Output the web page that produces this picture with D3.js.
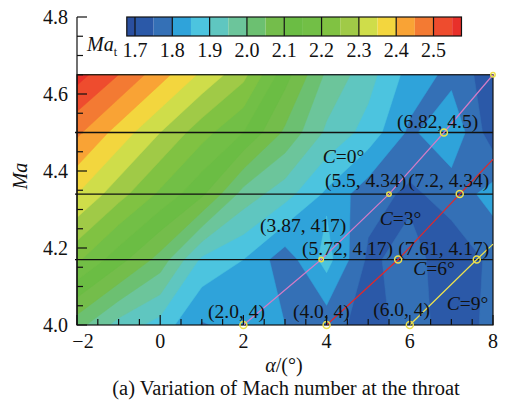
<!DOCTYPE html>
<html>
<head>
<meta charset="utf-8">
<script src="https://cdn.jsdelivr.net/npm/d3@7"></script>
<style>
  body { margin:0; background:#fff; }
  svg text { font-family:"Liberation Serif","Times New Roman","DejaVu Serif",serif; fill:#111; }
</style>
</head>
<body>
<div id="chart"></div>
<script>
// grid of throat Mach number
var alphaGrid = [-2, -1, 0, 1, 2, 3, 4, 5, 6, 7, 8];
var maGrid = [4.0, 4.17, 4.34, 4.5, 4.65];
var matRow400 = [2.02, 1.93, 1.88, 1.795, 1.82, 1.80, 1.77, 1.73, 1.77, 1.73, 1.76];
var matRow417 = [2.21, 2.12, 2.03, 1.89, 1.85, 1.77, 1.87, 1.74, 1.77, 1.72, 1.76];
var matRow434 = [2.35, 2.27, 2.19, 2.11, 1.98, 1.92, 1.84, 1.77, 1.74, 1.77, 1.82];
var matRow450 = [2.46, 2.38, 2.30, 2.22, 2.15, 2.04, 1.94, 1.88, 1.79, 1.84, 1.72];
var matRow465 = [2.57, 2.50, 2.42, 2.34, 2.265, 2.12, 1.99, 1.92, 1.83, 1.785, 1.72];

var levels = [1.65, 1.70, 1.75, 1.80, 1.85, 1.90, 1.95, 2.00, 2.05, 2.10, 2.15, 2.20, 2.25, 2.30, 2.35, 2.40, 2.45, 2.50, 2.55];
var levelColors = ["#2a4f9f", "#2b59a8", "#3470b6", "#2fa3da", "#4cc4df", "#5fc6c0", "#6cc59b", "#6cc071", "#74bd4b",
                   "#6bbd44", "#72bf46", "#80c242", "#a0ca47", "#cfdd4a", "#f3d63e", "#f9a335", "#f37a33", "#ee4c2e", "#e8302a"];
var cbTicks = [1.7, 1.8, 1.9, 2.0, 2.1, 2.2, 2.3, 2.4, 2.5];
var cbRange = [1.678, 2.575];

var xTicks = [-2, 0, 2, 4, 6, 8];
var yTicks = [4.0, 4.2, 4.4, 4.6, 4.8];
var hLines = [4.17, 4.34, 4.5];

// operating lines C = const
var c0Alpha = [2.0, 3.87, 5.5, 6.82, 8.0],  c0Ma = [4.0, 4.17, 4.34, 4.5, 4.65];
var c3Alpha = [4.0, 5.72, 7.2, 8.0],        c3Ma = [4.0, 4.17, 4.34, 4.43];
var c6Alpha = [6.0, 7.61, 8.0],             c6Ma = [4.0, 4.17, 4.21];

// labels: text, alpha, Ma of text start
var notes = [
  ["(6.82, 4.5)", 5.69, 4.512], ["(5.5, 4.34)", 3.96, 4.358], ["(7.2, 4.34)", 5.96, 4.358],
  ["(3.87, 417)", 2.40, 4.242], ["(5.72, 4.17)", 3.41, 4.182], ["(7.61, 4.17)", 5.72, 4.182],
  ["(2.0, 4)", 1.15, 4.018], ["(4.0, 4)", 3.19, 4.018], ["(6.0, 4)", 5.12, 4.023]
];
var cNotes = [["0", 3.91, 4.421], ["3", 5.28, 4.260], ["6", 6.08, 4.130], ["9", 6.89, 4.039]];

var W = 508, H = 400;
var svg = d3.select("#chart").append("svg").attr("width", W).attr("height", H);

var x = d3.scaleLinear().domain([-2, 8]).range([77, 493]);
var y = d3.scaleLinear().domain([4.0, 4.8]).range([325, 17]);
var maTop = 4.65;

// contour field
var nx = alphaGrid.length, ny = maGrid.length;
var rows = [matRow400, matRow417, matRow434, matRow450, matRow465];
var values = [];
rows.forEach(function(r){ r.forEach(function(v){ values.push(v); }); });

var gxToAlpha = d3.scaleLinear().domain([0.5, nx - 0.5]).range([alphaGrid[0], alphaGrid[nx-1]]);
var gyToMa = d3.scaleLinear().domain(maGrid.map(function(d,i){ return i + 0.5; })).range(maGrid);

var proj = d3.geoTransform({
  point: function(px, py) { this.stream.point(x(gxToAlpha(px)), y(gyToMa(py))); }
});
var path = d3.geoPath(proj);

var px0 = x(-2), py0 = y(maTop), pw = x(8) - x(-2), ph = y(4.0) - y(maTop);

svg.append("clipPath").attr("id", "clip")
  .append("rect").attr("x", px0).attr("y", py0).attr("width", pw).attr("height", ph);

var field = svg.append("g").attr("clip-path", "url(#clip)");
field.append("rect").attr("x", px0).attr("y", py0).attr("width", pw).attr("height", ph)
  .attr("fill", levelColors[0]);

var contours = d3.contours().size([nx, ny]).thresholds(levels.slice(1))(values);
field.selectAll("path.band").data(contours).enter().append("path")
  .attr("class", "band")
  .attr("d", path)
  .attr("fill", function(d){ return levelColors[levels.indexOf(d.value)]; })
  .attr("stroke", function(d){ return levelColors[levels.indexOf(d.value)]; })
  .attr("stroke-width", 0.5);

// border of contour region
svg.append("rect").attr("x", px0).attr("y", py0).attr("width", pw).attr("height", ph)
  .attr("fill", "none").attr("stroke", "#111").attr("stroke-width", 1.2);

// horizontal Ma lines
svg.selectAll("line.h").data(hLines).enter().append("line")
  .attr("x1", x(-2) - 2).attr("x2", x(8)).attr("y1", function(d){ return y(d); }).attr("y2", function(d){ return y(d); })
  .attr("stroke", "#111").attr("stroke-width", 1.3);

// C lines
var line = d3.line().x(function(d){ return x(d[0]); }).y(function(d){ return y(d[1]); });
var cSets = [
  { a: c0Alpha, m: c0Ma, col: "#d27cc6" },
  { a: c3Alpha, m: c3Ma, col: "#e2282a" },
  { a: c6Alpha, m: c6Ma, col: "#eee24e" }
];
cSets.forEach(function(s){
  var pts = s.a.map(function(a, i){ return [a, s.m[i]]; });
  svg.append("path").attr("d", line(pts)).attr("fill", "none").attr("stroke", s.col).attr("stroke-width", 1.2);
});

// markers
var markers = [];
[[c0Alpha, c0Ma], [c3Alpha, c3Ma], [c6Alpha, c6Ma]].forEach(function(s, k){
  s[0].forEach(function(a, i){
    if (a < 8) markers.push([a, s[1][i], (k == 0 && i > 0 && i < 3) ? 2.2 : 3.5]);
  });
});
markers.push([8, 4.65, 2.2]);
svg.selectAll("circle.mk").data(markers).enter().append("circle")
  .attr("cx", function(d){ return x(d[0]); }).attr("cy", function(d){ return y(d[1]); })
  .attr("r", function(d){ return d[2]; })
  .attr("fill", "none").attr("stroke", "#ece04c").attr("stroke-width", 1.5);

// annotations
svg.selectAll("text.note").data(notes).enter().append("text")
  .attr("x", function(d){ return x(d[1]); }).attr("y", function(d){ return y(d[2]); })
  .attr("font-size", 19.5).text(function(d){ return d[0]; });
var cn = svg.selectAll("text.cn").data(cNotes).enter().append("text")
  .attr("x", function(d){ return x(d[1]); }).attr("y", function(d){ return y(d[2]); })
  .attr("font-size", 19.5);
cn.append("tspan").attr("font-style", "italic").text("C");
cn.append("tspan").text(function(d){ return "=" + d[0] + "°"; });

// axes
svg.append("line").attr("x1", x(-2)).attr("x2", x(-2)).attr("y1", y(4.8)).attr("y2", y(4.0))
  .attr("stroke", "#111").attr("stroke-width", 1.2);

var yMinor = d3.range(4.0, 4.801, 0.05);
svg.selectAll("line.ytick").data(yMinor).enter().append("line")
  .attr("x1", x(-2)).attr("y1", function(d){ return y(d); }).attr("y2", function(d){ return y(d); })
  .attr("x2", function(d){ return x(-2) + (Math.abs(d*5 - Math.round(d*5)) < 1e-6 ? 10 : 6); })
  .attr("stroke", "#111").attr("stroke-width", 1.2);
svg.selectAll("text.ylab").data(yTicks).enter().append("text")
  .attr("x", 68).attr("y", function(d){ return y(d) + 7; })
  .attr("text-anchor", "end").attr("font-size", 20).text(function(d){ return d.toFixed(1); });

var xMinor = d3.range(-2, 8.001, 0.5);
svg.selectAll("line.xtick").data(xMinor).enter().append("line")
  .attr("x1", function(d){ return x(d); }).attr("x2", function(d){ return x(d); })
  .attr("y1", y(4.0)).attr("y2", function(d){ return y(4.0) - (d % 2 === 0 ? 10 : 6); })
  .attr("stroke", "#111").attr("stroke-width", 1.2);
svg.selectAll("text.xlab").data(xTicks).enter().append("text")
  .attr("x", function(d){ return x(d) + (d < 0 ? 6 : 0); }).attr("y", 348)
  .attr("text-anchor", "middle").attr("font-size", 20).text(function(d){ return d < 0 ? "\u2212" + (-d) : d; });

svg.append("text").attr("transform", "translate(27,176) rotate(-90)")
  .attr("text-anchor", "middle").attr("font-size", 20).attr("font-style", "italic").text("Ma");

var xt = svg.append("text").attr("x", 284).attr("y", 372).attr("text-anchor", "middle").attr("font-size", 20);
xt.append("tspan").attr("font-style", "italic").text("α");
xt.append("tspan").text("/(°)");

svg.append("text").attr("x", 286).attr("y", 395).attr("text-anchor", "middle").attr("font-size", 20.5)
  .text("(a) Variation of Mach number at the throat");

// colorbar
var cb = d3.scaleLinear().domain([1.7, 2.5]).range([135, 433.5]);
var cbY = 17, cbH = 19;
var cbBands = levels.map(function(l, i){
  return [Math.max(l, cbRange[0]), Math.min(i < levels.length - 1 ? levels[i+1] : cbRange[1], cbRange[1]), levelColors[i]];
});
svg.selectAll("rect.cb").data(cbBands).enter().append("rect")
  .attr("x", function(d){ return cb(d[0]); }).attr("width", function(d){ return cb(d[1]) - cb(d[0]); })
  .attr("y", cbY).attr("height", cbH).attr("fill", function(d){ return d[2]; });
svg.selectAll("line.cbdiv").data(cbTicks).enter().append("line")
  .attr("x1", function(d){ return cb(d); }).attr("x2", function(d){ return cb(d); })
  .attr("y1", cbY).attr("y2", cbY + cbH).attr("stroke", "#111").attr("stroke-width", 1.2);
svg.append("rect").attr("x", cb(cbRange[0])).attr("y", cbY).attr("width", cb(cbRange[1]) - cb(cbRange[0])).attr("height", cbH)
  .attr("fill", "none").attr("stroke", "#111").attr("stroke-width", 1.2);
svg.selectAll("text.cblab").data(cbTicks).enter().append("text")
  .attr("x", function(d){ return cb(d); }).attr("y", 57).attr("text-anchor", "middle").attr("font-size", 20)
  .text(function(d){ return d.toFixed(1); });
var mt = svg.append("text").attr("x", 87).attr("y", 51).attr("font-size", 20);
mt.append("tspan").attr("font-style", "italic").text("Ma");
mt.append("tspan").attr("font-size", 12).attr("dy", 5).text("t");
</script>
</body>
</html>
